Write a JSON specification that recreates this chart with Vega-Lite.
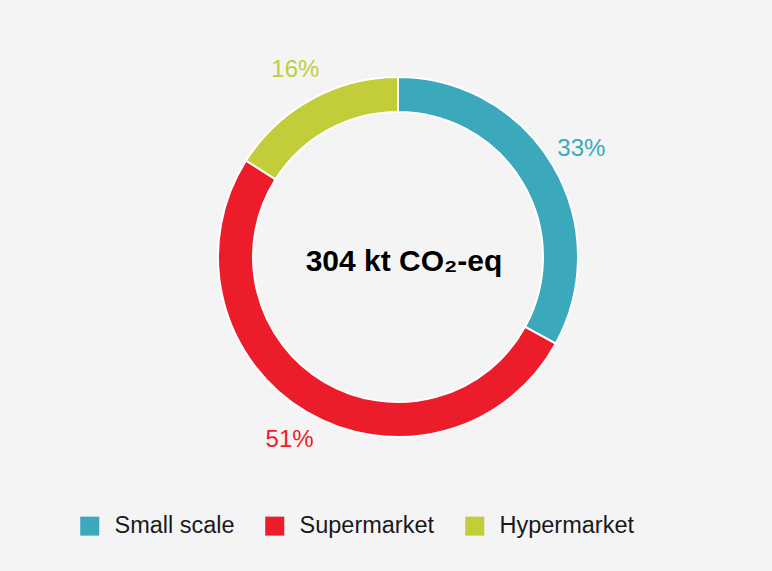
{
  "$schema": "https://vega.github.io/schema/vega-lite/v6.json",
  "width": 760,
  "height": 514,
  "autosize": "none",
  "padding": {"left": 18, "top": 0, "right": 0, "bottom": 57},
  "background": "#f4f4f4",
  "config": {"view": {"stroke": null}, "font": "Liberation Sans"},
  "data": {"values": [
    {"segment": "Small scale", "share": 33, "label": "33%", "rank": 1},
    {"segment": "Supermarket", "share": 51, "label": "51%", "rank": 2},
    {"segment": "Hypermarket", "share": 16, "label": "16%", "rank": 3}
  ]},
  "encoding": {
    "theta": {"field": "share", "type": "quantitative", "stack": true},
    "order": {"field": "rank", "type": "quantitative"},
    "color": {
      "field": "segment",
      "type": "nominal",
      "scale": {"domain": ["Small scale", "Supermarket", "Hypermarket"], "range": ["#3ba8bc", "#ed1c2a", "#c3cd3a"]},
      "legend": {
        "title": null,
        "orient": "none",
        "direction": "horizontal",
        "legendX": 60,
        "legendY": 514,
        "padding": 0,
        "symbolType": "square",
        "symbolSize": 361,
        "symbolStrokeWidth": 0,
        "symbolOpacity": 1,
        "labelFontSize": 23.5,
        "labelFont": "Liberation Sans",
        "labelColor": "#1a1a1a",
        "labelOffset": 13,
        "columnPadding": 28,
        "labelLimit": 300
      }
    }
  },
  "layer": [
    {
      "mark": {"type": "arc", "radius": 180, "radius2": 145, "stroke": "#ffffff", "strokeWidth": 2}
    },
    {
      "mark": {"type": "text", "radius": 213, "fontSize": 24, "font": "Liberation Sans", "align": "center", "baseline": "middle"},
      "encoding": {"text": {"field": "label", "type": "nominal"}}
    },
    {
      "data": {"values": [{"title": "304 kt CO₂-eq"}]},
      "mark": {"type": "text", "fontSize": 30, "fontWeight": "bold", "font": "Liberation Sans", "color": "#000000", "align": "center", "baseline": "middle", "dx": 6, "dy": 5},
      "encoding": {"text": {"field": "title", "type": "nominal"}, "theta": null, "order": null, "color": null}
    }
  ]
}
